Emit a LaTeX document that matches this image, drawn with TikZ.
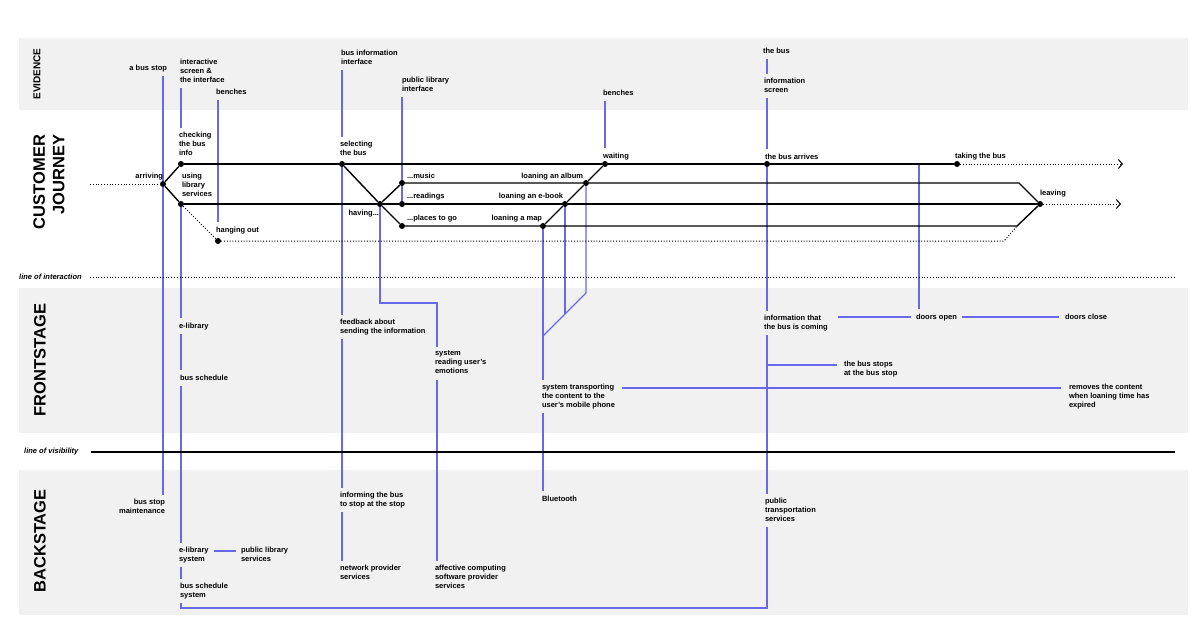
\documentclass[tikz,border=0pt]{standalone}
\usepackage{fontspec}
\setmainfont{Liberation Sans}
\usetikzlibrary{arrows.meta}
\definecolor{band}{RGB}{241,241,241}
\definecolor{lnk}{RGB}{104,104,232}
\pgfdeclarelayer{bg}
\pgfdeclarelayer{mid}
\pgfsetlayers{bg,mid,main}
\begin{document}
\begin{tikzpicture}[x=1pt,y=-1pt,
  lbl/.style={font=\fontsize{7.5}{9}\selectfont\bfseries, inner sep=0pt, outer sep=0pt, align=left, anchor=north west,
    execute at begin node=\rule{0pt}{6.3pt}, execute at end node=\rule[-2.7pt]{0pt}{2.7pt}},
  lblr/.style={lbl, align=right, anchor=north east},
  sect/.style={font=\fontsize{16.5}{19.5}\selectfont\bfseries, rotate=90, inner sep=0pt, align=right},
  linelbl/.style={font=\fontsize{7.5}{9}\selectfont\bfseries\itshape, inner sep=0pt, anchor=west},
  dot/.style={circle, fill=black, inner sep=0pt, minimum size=6pt},
  jl/.style={line width=1.4pt},
  jd/.style={line width=1pt, dash pattern=on 1pt off 1.8pt},
  lk/.style={lnk, line width=1.2pt},
  ga/.style={shorten <=3.5pt},
  gb/.style={shorten >=3.5pt},
  tip/.style={-{Straight Barb[length=4pt,width=9pt,line width=1pt]}}]
\useasboundingbox (0,0) rectangle (1200,637);
\begin{pgfonlayer}{bg}
\fill[white] (0,0) rectangle (1200,637);
\fill[band] (19,38) rectangle (1188,110);
\fill[band] (19,288) rectangle (1188,433);
\fill[band] (19,470) rectangle (1188,615);
\end{pgfonlayer}

% section titles
\node[sect, font=\fontsize{10}{12}\selectfont\bfseries] (tEv) at (37,74) {EVIDENCE};
\node[sect] (tCJ) at (49,182) {CUSTOMER\\JOURNEY};
\node[sect] (tFS) at (40,360) {FRONTSTAGE};
\node[sect] (tBS) at (40,541) {BACKSTAGE};

% lines of interaction / visibility
\node[linelbl] (loi) at (19,277) {line of interaction};
\node[linelbl] (lov) at (24,452) {line of visibility};
\coordinate (loiE) at (1175,277);
\coordinate (lovE) at (1175,452);
\draw[jd] ([xshift=8pt]loi.east) -- (loiE);
\draw[line width=1.1pt] ([xshift=12pt]lov.east) -- (lovE);

% evidence labels
\node[lblr] (eBus) at (167,63.7) {a bus stop};
\node[lbl] (eScr) at (180,58.7) {interactive\\screen \&\\the interface};
\node[lbl] (eBen1) at (216,87.7) {benches};
\node[lbl] (eBII) at (341,49.7) {bus information\\interface};
\node[lbl] (ePLI) at (402,76.7) {public library\\interface};
\node[lbl] (eBen2) at (603,88.7) {benches};
\node[lbl] (eBus2) at (763,46.7) {the bus};
\node[lbl] (eIS) at (764,77.7) {information\\screen};

% journey dots
\node[dot] (arr) at (163,184) {};
\node[dot] (chk) at (181,164) {};
\node[dot] (use) at (181,204) {};
\node[dot] (hang) at (218,241) {};
\node[dot] (sel) at (342,164) {};
\node[dot] (hav) at (380,204) {};
\node[dot] (mus) at (402,183) {};
\node[dot] (rea) at (402,204) {};
\node[dot] (pla) at (402,226) {};
\node[dot] (map) at (543,226) {};
\node[dot] (ebk) at (565,204) {};
\node[dot] (alb) at (586,183) {};
\node[dot] (wait) at (605,164) {};
\node[dot] (arrv) at (767,164) {};
\node[dot] (take) at (957,164) {};
\node[dot] (leave) at (1040,204) {};
\coordinate (in) at (90,184);
\coordinate (musE) at (1019,183);
\coordinate (plaE) at (1017,226);
\coordinate (hangE) at (1004,241);
\coordinate (takeT) at (1123,164);
\coordinate (leaveT) at (1121,204);
\coordinate (dcol) at (919,164);
\coordinate (cEmo) at (437,303);
\coordinate (cA) at (586,293);
\coordinate (cE) at (565,314);
\coordinate (cM) at (543,336);
\coordinate (cB) at (767,608);

% journey labels
\node[lbl] (lChk) at (179,131.7) {checking\\the bus\\info};
\node[lblr] (lArr) at (163,171.7) {arriving};
\node[lbl] (lUse) at (182,172.7) {using\\library\\services};
\node[lbl] (lHang) at (216,225.7) {hanging out};
\node[lbl] (lSel) at (340,140.7) {selecting\\the bus};
\node[lblr] (lHav) at (379,208.7) {having...};
\node[lbl] (lMus) at (407,171.7) {...music};
\node[lbl] (lRea) at (407,191.7) {...readings};
\node[lbl] (lPla) at (407,213.7) {...places to go};
\node[lblr] (lAlb) at (583,171.7) {loaning an album};
\node[lblr] (lEbk) at (563,191.7) {loaning an e-book};
\node[lblr] (lMap) at (542,213.7) {loaning a map};
\node[lbl] (lWait) at (603,151.7) {waiting};
\node[lbl] (lArrv) at (765,152.7) {the bus arrives};
\node[lbl] (lTake) at (955,151.7) {taking the bus};
\node[lbl] (lLeave) at (1040,188.7) {leaving};

% frontstage labels
\node[lbl] (fEL) at (179,321.7) {e-library};
\node[lbl] (fBS) at (180,373.7) {bus schedule};
\node[lbl] (fFb) at (340,318.7) {feedback about\\sending the information};
\node[lbl] (fSR) at (435,350.7) {system\\reading user's\\emotions};
\node[lbl] (fST) at (542,383.7) {system transporting\\the content to the\\user's mobile phone};
\node[lbl] (fIC) at (764,314.7) {information that\\the bus is coming};
\node[lbl] (fDO) at (916,312.7) {doors open};
\node[lbl] (fDC) at (1065,312.7) {doors close};
\node[lbl] (fBSt) at (844,360.7) {the bus stops\\at the bus stop};
\node[lbl] (fRem) at (1069,383.7) {removes the content\\when loaning time has\\expired};

% backstage labels
\node[lblr] (bMaint) at (165,498.7) {bus stop\\maintenance};
\node[lbl] (bInf) at (340,491.7) {informing the bus\\to stop at the stop};
\node[lbl] (bBT) at (542,494.7) {Bluetooth};
\node[lbl] (bPTS) at (765,497.7) {public\\transportation\\services};
\node[lbl] (bELS) at (179,546.7) {e-library\\system};
\node[lbl] (bPLS) at (241,546.7) {public library\\services};
\node[lbl] (bBSS) at (180,582.7) {bus schedule\\system};
\node[lbl] (bNPS) at (340,564.7) {network provider\\services};
\node[lbl] (bACS) at (435,564.7) {affective computing\\software provider\\services};

\path ([yshift=-4.3pt]fDO.north west) coordinate (doL);
\path ([yshift=-4.3pt]fDO.north east) coordinate (doR);
\path ([yshift=-4.3pt]fDC.north west) coordinate (dcL);
\path ([yshift=-4.3pt]fRem.north west) coordinate (remL);
\path ([yshift=-4.3pt]fBSt.north west) coordinate (bsL);
\path ([yshift=-4.3pt]bPLS.north west) coordinate (plsL);

% blue links
\begin{pgfonlayer}{mid}
\draw[lk,ga] (arr |- eBus.south) -- (arr);
\draw[lk,gb] (arr) -- (arr |- bMaint.north);
\draw[lk,ga,gb] (chk |- eScr.south) -- (chk |- lChk.north);
\draw[lk,gb] (use) -- (use |- fEL.north);
\draw[lk,ga,gb] (use |- fEL.south) -- (use |- fBS.north);
\draw[lk,ga,gb] (use |- fBS.south) -- (use |- bELS.north);
\draw[lk,ga,gb] (use |- bELS.south) -- (use |- bBSS.north);
\draw[lk,ga,gb] (use |- bBSS.south) -- (use |- cB) -- (cB) -- (cB |- bPTS.south);
\draw[lk,shorten <=5pt,shorten >=5pt] (bELS.east |- plsL) -- (plsL);
\draw[lk,ga,gb] (hang |- eBen1.south) -- (hang |- lHang.north);
\draw[lk,ga,gb] (sel |- eBII.south) -- (sel |- lSel.north);
\draw[lk,gb] (sel) -- (sel |- fFb.north);
\draw[lk,ga,gb] (sel |- fFb.south) -- (sel |- bInf.north);
\draw[lk,ga,gb] (sel |- bInf.south) -- (sel |- bNPS.north);
\draw[lk,gb] (hav) -- (hav |- cEmo) -- (cEmo) -- (cEmo |- fSR.north);
\draw[lk,ga,gb] (cEmo |- fSR.south) -- (cEmo |- bACS.north);
\draw[lk,ga] (mus |- ePLI.south) -- (mus);
\draw[lk] (mus) -- (rea);
\draw[lk,gb] (map) -- (map |- fST.north);
\draw[lk] (alb) -- (cA) -- (cM);
\draw[lk] (ebk) -- (cE);
\draw[lk,ga,gb] (map |- fST.south) -- (map |- bBT.north);
\draw[lk,shorten <=7.5pt,shorten >=8pt] (fST.east |- remL) -- (remL);
\draw[lk,ga,gb] (wait |- eBen2.south) -- (wait |- lWait.north);
\draw[lk,ga,gb] (arrv |- eBus2.south) -- (arrv |- eIS.north);
\draw[lk,ga,gb] (arrv |- eIS.south) -- (arrv |- lArrv.north);
\draw[lk,gb] (arrv) -- (arrv |- fIC.north);
\draw[lk,ga,gb] (arrv |- fIC.south) -- (arrv |- bPTS.north);
\draw[lk,shorten >=7pt] (arrv |- bsL) -- (bsL);
\draw[lk,gb] (dcol) -- (dcol |- fDO.north);
\draw[lk,shorten <=10pt,shorten >=5pt] (fIC.east |- doL) -- (doL);
\draw[lk,shorten <=5pt,shorten >=6pt] (doR) -- (dcL);
\end{pgfonlayer}

% journey lines
\draw[jd] (in) -- (arr);
\draw[jl] (arr) -- (chk);
\draw[jl] (arr) -- (use);
\draw[jd] (use) -- (hang) -- (hangE) -- (plaE);
\draw[jl] (chk) -- (sel) -- (wait) -- (arrv) -- (take);
\draw[jd,tip] (take) -- (takeT);
\draw[jl] (use) -- (hav) -- (rea) -- (ebk) -- (leave);
\draw[jl] (sel) -- (hav);
\draw[jl] (hav) -- (mus) -- (alb) -- (musE) -- (leave);
\draw[jl] (hav) -- (pla) -- (map) -- (plaE) -- (leave);
\draw[jl] (map) -- (ebk) -- (alb) -- (wait);
\draw[jd,tip] (leave) -- (leaveT);
\end{tikzpicture}
\end{document}
